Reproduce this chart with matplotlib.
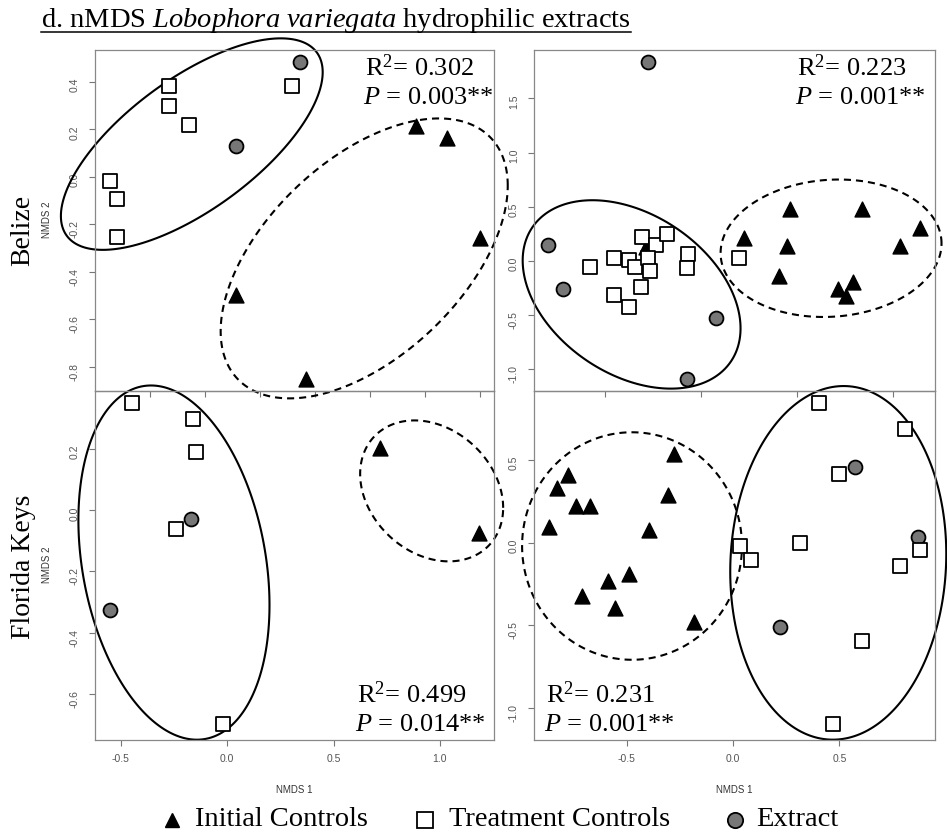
import numpy as np
import matplotlib.pyplot as plt
from matplotlib.lines import Line2D
from matplotlib.patches import Polygon

plt.rcParams['font.family'] = ['Liberation Serif', 'DejaVu Serif']
plt.rcParams['mathtext.fontset'] = 'custom'
plt.rcParams['mathtext.rm'] = 'Liberation Serif'
plt.rcParams['mathtext.it'] = 'Liberation Serif:italic'

# --- Belize, left panel ---
bz_a_init_x = [0.567, 0.679, 0.800, -0.087, 0.167]
bz_a_init_y = [0.213, 0.162, -0.258, -0.498, -0.853]
bz_a_treat_x = [-0.331, -0.331, -0.258, 0.117, -0.545, -0.519, -0.519]
bz_a_treat_y = [0.382, 0.299, 0.218, 0.382, -0.018, -0.095, -0.255]
bz_a_ext_x = [0.145, -0.088]
bz_a_ext_y = [0.484, 0.129]
# ellipses: centre x, centre y, half-width, half-height, correlation
bz_a_ell_init = [0.379, -0.344, 0.522, 0.589, 0.52]
bz_a_ell_treat = [-0.248, 0.137, 0.476, 0.445, 0.68]

# --- Belize, right panel ---
bz_b_init_x = [-0.288, 0.226, 0.464, 0.447, 0.409, 0.838, 1.041, 1.142, 0.716, 0.794, 0.755]
bz_b_init_y = [0.124, 0.207, 0.483, 0.136, -0.141, 0.483, 0.136, 0.304, -0.255, -0.194, -0.326]
bz_b_treat_x = [-0.577, -0.452, -0.377, -0.345, -0.305, -0.236, -0.175, -0.276,
                -0.265, -0.312, -0.452, -0.377, -0.066, -0.074, 0.200]
bz_b_treat_y = [-0.055, 0.028, 0.006, -0.055, 0.221, 0.151, 0.244, 0.028,
                -0.095, -0.240, -0.316, -0.424, 0.068, -0.065, 0.028]
bz_b_ext_x = [-0.274, -0.796, -0.721, 0.079, -0.074]
bz_b_ext_y = [1.836, 0.151, -0.255, -0.526, -1.085]
bz_b_ell_init = [0.679, 0.117, 0.576, 0.634, 0.07]
bz_b_ell_treat = [-0.361, -0.309, 0.568, 0.869, -0.36]

# --- Florida Keys, left panel ---
fk_a_init_x = [0.719, 1.184]
fk_a_init_y = [0.204, -0.073]
fk_a_treat_x = [-0.448, -0.159, -0.148, -0.240, -0.021]
fk_a_treat_y = [0.351, 0.298, 0.191, -0.063, -0.697]
fk_a_ext_x = [-0.171, -0.550]
fk_a_ext_y = [-0.028, -0.327]
fk_a_ell_init = [0.961, 0.063, 0.336, 0.230, -0.24]
fk_a_ell_treat = [-0.250, -0.171, 0.449, 0.578, -0.24]

# --- Florida Keys, right panel ---
fk_b_init_x = [-0.276, -0.778, -0.828, -0.737, -0.671, -0.306, -0.867,
               -0.397, -0.489, -0.588, -0.710, -0.557, -0.185]
fk_b_init_y = [0.537, 0.410, 0.329, 0.222, 0.222, 0.289, 0.097,
               0.077, -0.191, -0.232, -0.321, -0.397, -0.482]
fk_b_treat_x = [0.403, 0.810, 0.497, 0.317, 0.031, 0.086, 0.787, 0.878, 0.607, 0.469]
fk_b_treat_y = [0.844, 0.686, 0.414, -0.004, -0.020, -0.105, -0.145, -0.044, -0.595, -1.099]
fk_b_ext_x = [0.575, 0.868, 0.219]
fk_b_ext_y = [0.460, 0.036, -0.512]
fk_b_ell_init = [-0.475, -0.021, 0.517, 0.689, 0.0]
fk_b_ell_treat = [0.495, -0.123, 0.508, 1.071, 0.05]

r2_vals = ["0.302", "0.223", "0.499", "0.231"]
p_vals = ["0.003", "0.001", "0.014", "0.001"]
groups = ['Initial Controls', 'Treatment Controls', 'Extract']

W, H = 947, 836
fig = plt.figure(figsize=(W / 100, H / 100), dpi=100)


def box(x0, x1, ytop, ybot):
    return [x0 / W, 1 - ybot / H, (x1 - x0) / W, (ybot - ytop) / H]


panels = [
    dict(rect=box(95, 494, 50, 391), xlim=(-0.6, 0.851), ylim=(-0.902, 0.533),
         xt=[-0.4, -0.2, 0, 0.2, 0.4, 0.6, 0.8], yt=[-0.8, -0.6, -0.4, -0.2, 0, 0.2, 0.4],
         init=(bz_a_init_x, bz_a_init_y), treat=(bz_a_treat_x, bz_a_treat_y),
         ext=(bz_a_ext_x, bz_a_ext_y), ells=(bz_a_ell_init, bz_a_ell_treat),
         xlab=False, txt=(0.677, 0.947, 0.859)),
    dict(rect=box(534, 935, 50, 391), xlim=(-0.870, 1.221), ylim=(-1.2, 1.946),
         xt=[-0.5, 0, 0.5, 1.0], yt=[-1.0, -0.5, 0, 0.5, 1.0, 1.5],
         init=(bz_b_init_x, bz_b_init_y), treat=(bz_b_treat_x, bz_b_treat_y),
         ext=(bz_b_ext_x, bz_b_ext_y), ells=(bz_b_ell_init, bz_b_ell_treat),
         xlab=False, txt=(0.655, 0.947, 0.859)),
    dict(rect=box(95, 494, 391, 740), xlim=(-0.621, 1.254), ylim=(-0.750, 0.389),
         xt=[-0.5, 0, 0.5, 1.0], yt=[-0.6, -0.4, -0.2, 0, 0.2],
         init=(fk_a_init_x, fk_a_init_y), treat=(fk_a_treat_x, fk_a_treat_y),
         ext=(fk_a_ext_x, fk_a_ext_y), ells=(fk_a_ell_init, fk_a_ell_treat),
         xlab=True, txt=(0.656, 0.129, 0.043)),
    dict(rect=box(534, 935, 391, 740), xlim=(-0.936, 0.950), ylim=(-1.196, 0.918),
         xt=[-0.5, 0, 0.5], yt=[-1.0, -0.5, 0, 0.5],
         init=(fk_b_init_x, fk_b_init_y), treat=(fk_b_treat_x, fk_b_treat_y),
         ext=(fk_b_ext_x, fk_b_ext_y), ells=(fk_b_ell_init, fk_b_ell_treat),
         xlab=True, txt=(0.030, 0.129, 0.043)),
]

t = np.linspace(0, 2 * np.pi, 300, endpoint=False)
sans = 'Liberation Sans'

for i, p in enumerate(panels):
    ax = fig.add_axes(p['rect'])
    ax.set_facecolor('none')
    ax.set_xlim(*p['xlim'])
    ax.set_ylim(*p['ylim'])
    ax.set_xticks(p['xt'])
    ax.set_yticks(p['yt'])
    ax.set_xticklabels(['%.1f' % v for v in p['xt']], fontfamily=sans)
    ax.set_yticklabels(['%.1f' % v for v in p['yt']], fontfamily=sans)
    for s in ax.spines.values():
        s.set_color('#888888')
        s.set_linewidth(0.9)
    ax.tick_params(direction='out', length=4, width=0.8, color='#777777',
                   labelcolor='#555555', labelsize=7.5)
    ax.tick_params(axis='y', labelrotation=90, pad=7)
    ax.tick_params(axis='x', pad=6, labelbottom=p['xlab'])

    # group ellipses (dashed = initial controls, solid = treatment + extract)
    for (cx, cy, rx, ry, rho), ls in zip(p['ells'], ['--', '-']):
        d = np.arccos(rho)
        pts = np.column_stack([cx + rx * np.cos(t), cy + ry * np.cos(t - d)])
        poly = Polygon(pts, closed=True, fill=False, edgecolor='black', lw=1.5,
                       clip_on=False, zorder=2)
        if ls == '--':
            poly.set_linestyle((0, (3.4, 2.4)))
        ax.add_patch(poly)

    ax.scatter(*p['init'], marker='^', s=115, c='black', zorder=3, clip_on=False)
    ax.scatter(*p['ext'], marker='o', s=100, c='#777777', edgecolors='black',
               linewidths=1.3, zorder=4, clip_on=False)
    ax.scatter(*p['treat'], marker='s', s=115, c='white', edgecolors='black',
               linewidths=1.3, zorder=5, clip_on=False)

    tx, ty1, ty2 = p['txt']
    ax.text(tx, ty1, r'R$^2$= ' + r2_vals[i], transform=ax.transAxes,
            fontsize=19, va='center', ha='left')
    ax.text(tx - 0.005, ty2, r'$P$ = ' + p_vals[i] + '**', transform=ax.transAxes,
            fontsize=19, va='center', ha='left')

# axis names and row labels
for yc in (220, 565):
    fig.text(46.7 / W, 1 - yc / H, 'NMDS 2', rotation=90, ha='center', va='center',
             fontsize=7, color='#333333', family=sans)
for xc in (294.5, 734.5):
    fig.text(xc / W, 1 - 790 / H, 'NMDS 1', ha='center', va='center',
             fontsize=7, color='#333333', family=sans)
fig.text(23 / W, 1 - 230 / H, 'Belize', rotation=90, ha='center', va='center', fontsize=20)
fig.text(23 / W, 1 - 566.7 / H, 'Florida Keys', rotation=90, ha='center', va='center',
         fontsize=20)

title = fig.text(41 / W, 1 - 27.3 / H,
                 r'd. nMDS $\mathit{Lobophora\ variegata}$ hydrophilic extracts',
                 ha='left', va='baseline', fontsize=20.5)

# legend row along the bottom
key_marks = [
    dict(marker='^', mfc='black', mec='black', ms=10),
    dict(marker='s', mfc='white', mec='black', mew=1.3, ms=11),
    dict(marker='o', mfc='#777777', mec='black', mew=1.3, ms=11),
]
key_x = [172, 425, 735]
key_tx = [195, 449, 756]
yk = 1 - 820 / H
for km, mx, lx, lab in zip(key_marks, key_x, key_tx, groups):
    fig.add_artist(Line2D([mx / W], [yk], ls='none', transform=fig.transFigure, **km))
    fig.text(lx / W, yk, lab, ha='left', va='center', fontsize=20.5)

# underline the title
fig.canvas.draw()
bb = title.get_window_extent()
yu = 1 - 31.7 / H
fig.add_artist(Line2D([bb.x0 / W, bb.x1 / W], [yu, yu], color='black', lw=1.1,
                      transform=fig.transFigure))

fig.savefig('out.png', dpi=100)
